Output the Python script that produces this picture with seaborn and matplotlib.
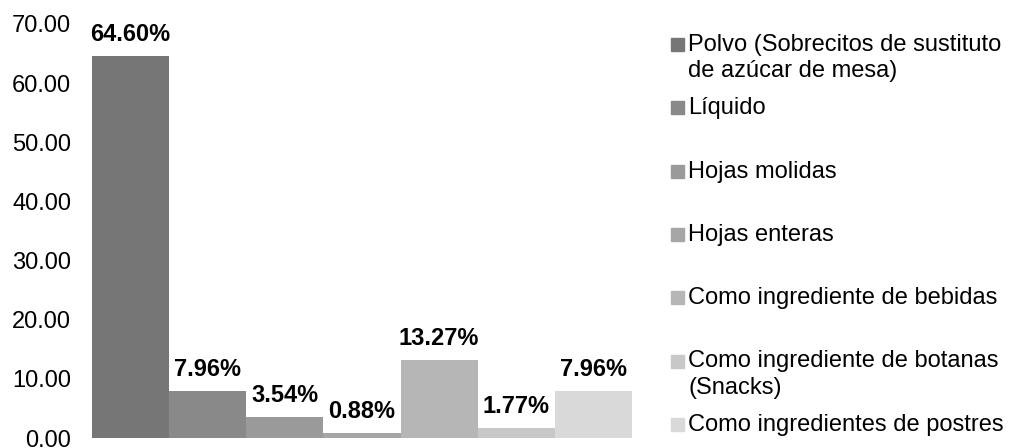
import matplotlib
matplotlib.use("Agg")
import matplotlib.pyplot as plt
import matplotlib.patches as mpatches
import seaborn as sns
import pandas as pd

# DATA
categorias = [
    "Polvo (Sobrecitos de sustituto\nde azúcar de mesa)",
    "Líquido",
    "Hojas molidas",
    "Hojas enteras",
    "Como ingrediente de bebidas",
    "Como ingrediente de botanas\n(Snacks)",
    "Como ingredientes de postres",
]
porcentajes = [64.60, 7.96, 3.54, 0.88, 13.27, 1.77, 7.96]
colores = ["#767676", "#898989", "#9a9a9a", "#a6a6a6", "#b6b6b6", "#c8c8c8", "#d9d9d9"]
ticks_y = [0, 10, 20, 30, 40, 50, 60, 70]

sns.set_style("white")
plt.rcParams["font.family"] = ["Liberation Sans", "DejaVu Sans"]
plt.rcParams["text.color"] = "black"
plt.rcParams["ytick.color"] = "black"

df = pd.DataFrame({"categoria": categorias, "valor": porcentajes})

fig = plt.figure(figsize=(10.09, 4.48), dpi=100)
ax = fig.add_axes([92 / 1009, 10 / 448, 540 / 1009, 414 / 448])

sns.barplot(data=df, x="categoria", y="valor", hue="categoria", palette=colores,
            width=1.0, legend=False, ax=ax, saturation=1, linewidth=0)

for cont in ax.containers:
    ax.bar_label(cont, fmt="%.2f%%", padding=7, fontsize=17, fontweight="bold",
                 color="black")

ax.set_ylim(0, 70)
ax.set_xlim(-0.5, len(categorias) - 0.5)
ax.set_yticks(ticks_y)
ax.set_yticklabels(["{:.2f}".format(t) for t in ticks_y], fontsize=17)
ax.set_xticks([])
ax.tick_params(axis="y", length=0, pad=15)
ax.set_xlabel("")
ax.set_ylabel("")
sns.despine(ax=ax, left=True, bottom=True)

# legend, evenly spaced, square aligned to first line of text
y0 = 1 - 44.5 / 448
step = 63.3 / 448
for i, (cat, col) in enumerate(zip(categorias, colores)):
    yc = y0 - i * step
    fig.patches.append(mpatches.Rectangle((671 / 1009, yc - 6.5 / 448), 13 / 1009, 13 / 448,
                                          transform=fig.transFigure, color=col))
    fig.text(688 / 1009, yc + 10.5 / 448, cat, fontsize=17, va="top", ha="left",
             linespacing=1.25)

plt.savefig("out.png", dpi=100)
